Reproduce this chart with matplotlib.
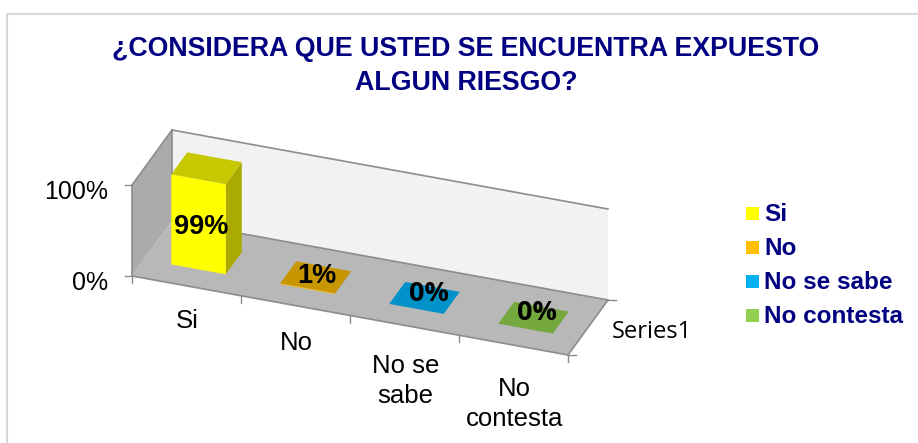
import matplotlib
matplotlib.use("Agg")
import matplotlib.pyplot as plt
from matplotlib.patches import Polygon, Rectangle

plt.rcParams['font.family'] = ['Liberation Sans', 'DejaVu Sans']

title = "¿CONSIDERA QUE USTED SE ENCUENTRA EXPUESTO\nALGUN RIESGO?"
categories = ["Si", "No", "No se\nsabe", "No\ncontesta"]
legend_labels = ["Si", "No", "No se sabe", "No contesta"]
values = [0.99, 0.01, 0.0, 0.0]
value_labels = ["99%", "1%", "0%", "0%"]
y_ticks = [0, 1]
y_tick_labels = ["0%", "100%"]
series_name = "Series1"

front_colors = ["#FFFF00", "#FFC000", "#00B0F0", "#92D050"]
top_colors = ["#C8C800", "#C89600", "#0092C8", "#76A840"]
side_colors = ["#AAAA00", "#AA8000", "#007CAA", "#648C38"]
NAVY = "#000080"
LINE = "#8C8C8C"

W, H = 918, 443
fig = plt.figure(figsize=(W / 100, H / 100), dpi=100)
ax = fig.add_axes([0, 0, 1, 1])
ax.set_xlim(0, W)
ax.set_ylim(H, 0)
ax.axis("off")


# category position, depth (0-1), value (0-1) -> pixel position
def proj(x, d, v):
    return (132 + 109 * x + 40 * d, 276 + 19.75 * x - 55 * d - 91 * v)


def face(points, color, z=2, edge="none", lw=0):
    ax.add_patch(Polygon([proj(*p) for p in points], closed=True, facecolor=color,
                         edgecolor=edge, linewidth=lw, zorder=z))


# outer frame (runs off the right and bottom of the picture)
ax.add_patch(Rectangle((7, 14), W, H, facecolor="white", edgecolor="#D9D9D9", linewidth=1.5))

# walls and floor
n = len(categories)
face([(0, 1, 0), (n, 1, 0), (n, 1, 1), (0, 1, 1)], "#F2F2F2", 1)
face([(0, 0, 0), (0, 1, 0), (0, 1, 1), (0, 0, 1)], "#ABABAB", 1)
face([(0, 0, 0), (n, 0, 0), (n, 1, 0), (0, 1, 0)], "#B8B8B8", 1)

for a, b in [((0, 0, 1), (0, 1, 1)), ((0, 1, 1), (n, 1, 1)), ((0, 0, 0), (0, 0, 1)),
             ((0, 0, 0), (n, 0, 0)), ((n, 0, 0), (n, 1, 0)), ((0, 1, 0), (n, 1, 0)),
             ((0, 1, 0), (0, 1, 1))]:
    pa, pb = proj(*a), proj(*b)
    ax.plot([pa[0], pb[0]], [pa[1], pb[1]], color=LINE, lw=1.2, zorder=1.5)

# ticks
for t, lab in zip(y_ticks, y_tick_labels):
    px, py = proj(0, 0, t)
    ax.plot([px - 7, px], [py, py], color=LINE, lw=1)
    ax.text(px - 24, py + 6.5, lab, ha="right", va="center", fontsize=18, color="black")
for i in range(n + 1):
    px, py = proj(i, 0, 0)
    ax.plot([px, px], [py, py + 7], color=LINE, lw=1)
for d in [0, 1]:
    px, py = proj(n, d, 0)
    ax.plot([px, px + 8], [py, py], color=LINE, lw=1)

# category labels
for i, lab in enumerate(categories):
    px, _ = proj(i + 0.5, 0, 0)
    ax.text(px + 1, 309 + 22.5 * i, lab, ha="center", va="top", fontsize=18.5,
            color="black", linespacing=1.32)

sx, sy = proj(n, 0.5, 0)
ax.text(sx + 24, sy + 5, series_name, ha="left", va="center", fontsize=17,
        family="Open Sans", color="black")

# bars
for i, v in enumerate(values):
    x0, x1 = i + 0.25, i + 0.75
    d0, d1 = 0.3, 0.7
    face([(x1, d0, 0), (x1, d1, 0), (x1, d1, v), (x1, d0, v)], side_colors[i], 2)
    face([(x0, d0, 0), (x1, d0, 0), (x1, d0, v), (x0, d0, v)], front_colors[i], 3)
    face([(x0, d0, v), (x1, d0, v), (x1, d1, v), (x0, d1, v)], top_colors[i], 3)

# data labels
label_offsets = [(-5, 59), (1, -1), (5, -4), (4, -5)]
label_fonts = ["Liberation Sans", "Liberation Sans", "Open Sans", "Open Sans"]
for i, lab in enumerate(value_labels):
    px, py = proj(i + 0.5, 0.5, values[i])
    ax.text(px + label_offsets[i][0], py + label_offsets[i][1], lab, ha="center", va="center",
            fontsize=19.5, fontweight="bold", family=label_fonts[i], color="black", zorder=5)

ax.text(466, 66, title, ha="center", va="center", fontsize=19.3, fontweight="bold",
        color=NAVY, linespacing=1.36)

# legend
for i, lab in enumerate(legend_labels):
    yc = 213.3 + 34 * i
    ax.add_patch(Rectangle((746, yc - 6.5), 13, 13, facecolor=front_colors[i], edgecolor="none"))
    ax.text(764, yc + 1, lab, ha="left", va="center", fontsize=17.5, fontweight="bold", color=NAVY)

fig.savefig("out.png", dpi=100)
